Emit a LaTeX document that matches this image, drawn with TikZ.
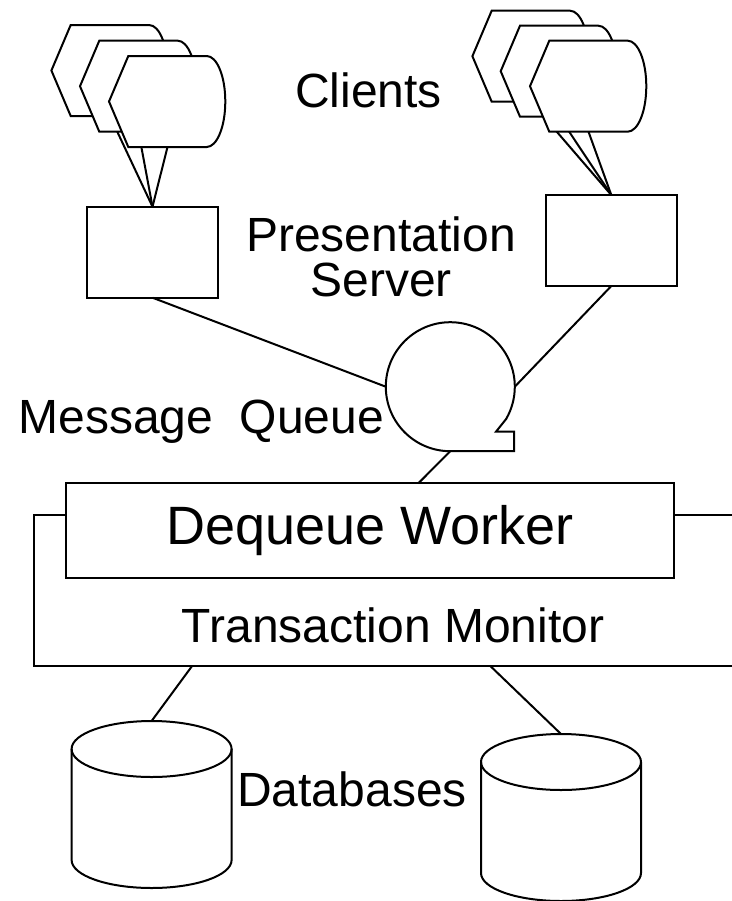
\documentclass[tikz,border=0pt]{standalone}
\usepackage{fontspec}
\setmainfont{Liberation Sans}
\usetikzlibrary{backgrounds}

\tikzset{
  box/.style={draw, fill=white, inner sep=0pt, outer sep=0pt},
  lbl/.style={font=\fontsize{24}{22.5}\selectfont, inner sep=0pt},
  % terminal: pointed left side, rounded right side
  client/.pic={
    \draw[fill=white] (-19.3,45.5) -- (0,0) -- (78.4,0)
      .. controls (88.7,0) and (97,20.4) .. (97,45.5)
      .. controls (97,70.6) and (88.7,91) .. (78.4,91) -- (0,91) -- cycle;
    \coordinate (-port) at (39.2,91);
  },
  database/.pic={
    \draw[fill=white] (-80,0) -- (-80,111)
      arc[start angle=180, end angle=360, x radius=40pt, y radius=14pt]
      -- (80,0)
      arc[start angle=0, end angle=180, x radius=40pt, y radius=14pt] -- cycle;
    \draw (-80,0) arc[start angle=180, end angle=360, x radius=40pt, y radius=14pt];
    \coordinate (-top) at (0,-28);
  },
}

\begin{document}
\begin{tikzpicture}[x=0.5pt, y=-0.5pt, line width=1pt]
\useasboundingbox (0,0) rectangle (732,901);

% clients, back to front
\foreach \n/\px/\py in {lb/70.7/25, lm/99.3/40.7, lf/128.3/56, rb/491.7/10.7, rm/520/25.7, rf/549.3/40.7}
  \pic (\n) at (\px,\py) {client};

% presentation servers
\node[box, minimum width=65.2pt, minimum height=45.5pt] (lserver) at (152.5,252.2) {};
\node[box, minimum width=65.3pt, minimum height=45.5pt] (rserver) at (611.3,240.5) {};

\begin{scope}[on background layer]
  \foreach \n in {lb,lm,lf} \draw[line width=1pt] (lserver.north) -- (\n-port);
  \foreach \n in {rb,rm,rf} \draw[line width=1pt] (rserver.north) -- (\n-port);
\end{scope}

% message queue
\node[circle, minimum size=64.5pt, inner sep=0pt, outer sep=0pt] (queue) at (450.3,386.7) {};
\draw[fill=white] (queue.south) arc[start angle=-90, delta angle=-300, radius=32.25pt]
  -- (496,431.7) -- (514,431.7) -- (514,451.2) -- cycle;
\draw (lserver.south) -- (queue.west);
\draw (rserver.south) -- (queue.east);

% transaction monitor with the worker inside
\node[box, minimum width=363pt, minimum height=75.35pt] (monitor) at (397,590.35) {};
\node[box, minimum width=304.3pt, minimum height=47.5pt, font=\fontsize{27}{30}\selectfont] (worker) at (370,530.8) {Dequeue Worker};
\coordinate (wq) at (418.3,483.3);
\draw (queue.south) -- (wq);

% databases
\pic (db1) at (151.6,749) {database};
\pic (db2) at (561,762) {database};
\coordinate (m1) at (192.3,665.7);
\coordinate (m2) at (490,665.7);
\draw (m1) -- (db1-top);
\draw (m2) -- (db2-top);

% labels
\node[lbl, anchor=base] (clients) at (368.5,107) {Clients};
\node[lbl, align=center] (pres) at (381,257) {Presentation\\Server};
\node[lbl, anchor=base east] (mq) at (385,433) {Message\ \ Queue};
\node[lbl, anchor=base] (tm) at (393,642.7) {Transaction Monitor};
\node[lbl, anchor=base] (dbs) at (352,806) {Databases};
\end{tikzpicture}
\end{document}
